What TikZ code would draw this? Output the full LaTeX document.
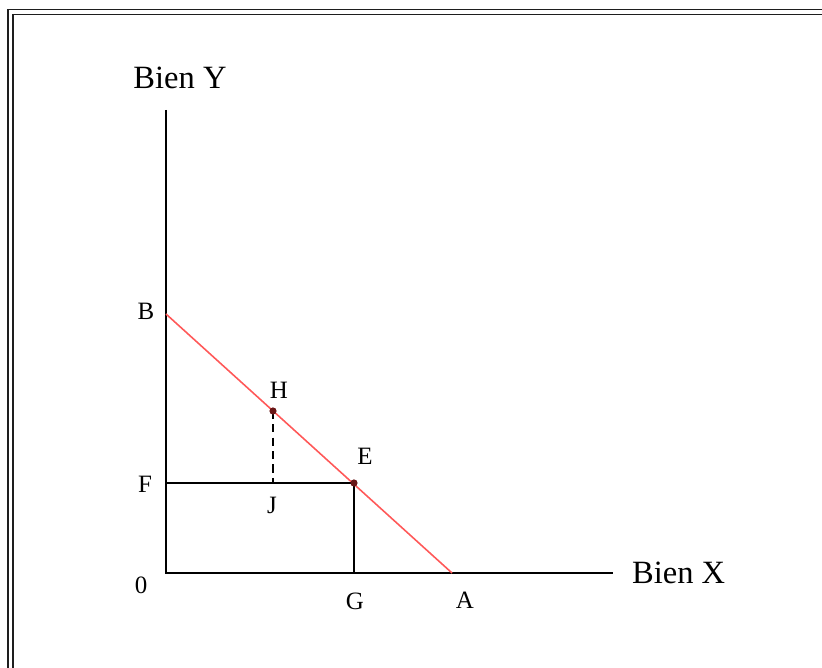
\documentclass[tikz,border=0pt]{standalone}
\usepackage{fontspec}
\setmainfont{Liberation Serif}
\usetikzlibrary{positioning}
\definecolor{budgetred}{RGB}{255,88,88}
\definecolor{pointdark}{RGB}{105,22,22}
\definecolor{framegray}{RGB}{30,30,30}
\tikzset{
  axis/.style={line width=0.95pt, black},
  budget/.style={line width=0.9pt, budgetred},
  guide/.style={line width=0.9pt, black},
  guidedash/.style={line width=0.9pt, black, dash pattern=on 4.6pt off 3pt},
  dotpt/.style={fill=pointdark},
  lbl/.style={font=\fontsize{14.2}{16}\selectfont, inner sep=1pt},
  axlbl/.style={font=\fontsize{18.5}{21}\selectfont, inner sep=1pt},
  frameline/.style={line width=1.1pt, framegray},
}
\begin{document}
\begin{tikzpicture}

  \useasboundingbox (-3.32,-1.9) rectangle (13.12,11.46);

  % ---- double frame ----
  \draw[frameline] (-3.16,-1.9) -- (-3.16,11.27) -- (13.12,11.27);
  \draw[frameline] (-3.06,-1.9) -- (-3.06,11.17) -- (13.12,11.17);

  % ---- points ----
  \coordinate (O)    at (0,0);
  \coordinate (ytop) at (0,9.26);
  \coordinate (xend) at (8.94,0);
  \coordinate (B)    at (0,5.18);
  \coordinate (A)    at (5.72,0);
  \coordinate (E)    at (3.76,1.8);
  \coordinate (H)    at (2.14,3.24);
  \coordinate (F)    at (0,1.8);
  \coordinate (J)    at (2.14,1.8);
  \coordinate (G)    at (3.76,0);

  % ---- axes ----
  \draw[axis] (ytop) -- (O) -- (xend);
  \node[axlbl] (ylab) at (0.28,9.9) {Bien Y};
  \node[axlbl, right=0.34cm of xend] (xlab) {Bien X};

  % ---- budget line ----
  \draw[budget] (B) -- (A);

  % ---- guides ----
  \draw[guide] (F) -- (E) -- (G);
  \draw[guidedash] (H) -- (J);

  \fill[dotpt] (H) circle (0.072);
  \fill[dotpt] (E) circle (0.072);

  % ---- labels ----
  \node[lbl] (labB) at (-0.4,5.24)  {B};
  \node[lbl] (labH) at (2.26,3.66)  {H};
  \node[lbl] (labE) at (3.98,2.34)  {E};
  \node[lbl] (labF) at (-0.42,1.78) {F};
  \node[lbl] (labJ) at (2.12,1.36)  {J};
  \node[lbl] (lab0) at (-0.5,-0.24) {0};
  \node[lbl] (labG) at (3.78,-0.56) {G};
  \node[lbl] (labA) at (5.98,-0.54) {A};

\end{tikzpicture}
\end{document}
